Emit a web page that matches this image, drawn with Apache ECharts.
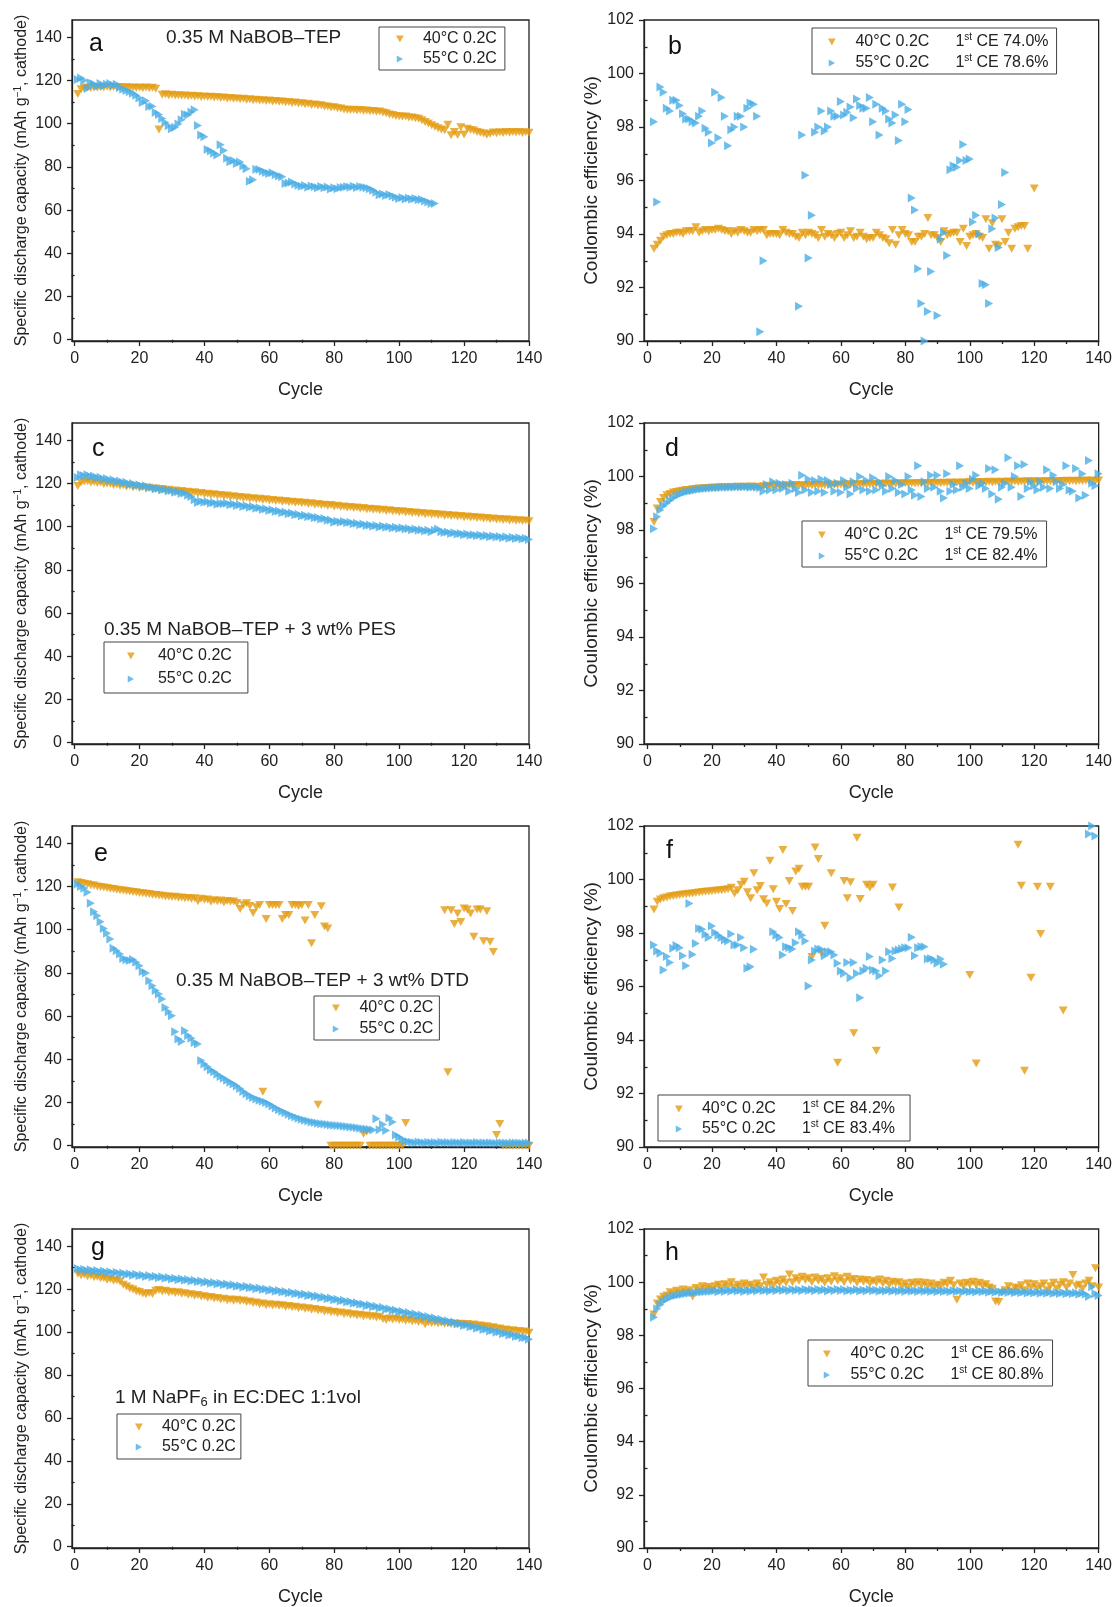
<!DOCTYPE html>
<html>
<head>
<meta charset="utf-8">
<script src="https://cdn.jsdelivr.net/npm/echarts@6/dist/echarts.min.js"></script>
<style>
html, body { margin: 0; padding: 0; background: #fff; }
#chart { width: 1115px; height: 1607px; }
</style>
</head>
<body>
<div id="chart"></div>
<script>
// values per cycle, index 0 = cycle 1, rows of 10 cycles, null = no point
var aCap40 = [
  113.8,116.0,116.5,116.8,116.5,117.0,116.6,117.0,116.7,117.1,
  116.8,117.0,116.7,117.0,116.6,116.9,116.6,116.8,116.5,116.8,
  116.4,116.7,116.4,116.6,116.2,97.3,113.4,113.6,113.2,113.4,
  113.0,113.2,112.9,113.1,112.7,112.9,112.6,112.8,112.4,112.6,
  112.3,112.5,112.1,112.3,111.9,112.1,111.7,111.9,111.5,111.7,
  111.3,111.5,111.1,111.3,110.9,111.1,110.7,110.9,110.5,110.7,
  110.3,110.5,110.1,110.3,109.9,110.0,109.6,109.8,109.3,109.5,
  109.0,109.2,108.7,108.9,108.4,108.5,108.0,107.9,107.5,107.6,
  107.2,107.0,106.6,106.5,106.3,106.5,106.1,106.3,106.0,106.1,
  105.7,105.9,105.5,105.6,105.2,104.8,104.3,104.0,103.6,103.5,
  103.2,103.3,102.9,102.9,102.5,102.3,101.6,100.8,100.1,99.3,
  98.6,97.9,97.3,97.0,99.5,94.6,96.2,94.8,98.3,95.0,
  97.6,97.1,96.8,96.2,95.8,95.4,94.9,95.3,95.9,95.6,
  96.0,95.7,96.1,95.8,96.2,95.9,96.1,95.7,96.0,95.8
];
var aCap55 = [
  120.5,121.2,120.0,116.3,119.0,118.4,117.2,118.6,117.5,118.2,
  118.6,117.8,118.3,116.8,115.9,115.4,114.8,114.1,113.2,111.9,
  109.8,110.6,107.9,108.1,105.2,104.3,102.4,100.6,99.1,97.6,
  98.4,99.9,101.8,104.4,104.0,105.4,106.4,99.2,94.8,94.0,
  88.0,87.3,86.3,85.5,90.2,87.6,84.0,82.4,83.0,81.6,
  82.3,80.4,79.1,73.3,74.1,78.9,78.8,78.0,77.4,76.9,
  77.3,76.4,75.8,75.4,72.3,72.6,73.0,72.1,71.5,71.0,
  71.4,70.6,71.2,70.8,70.4,70.9,70.3,70.7,69.8,70.4,
  69.9,70.5,70.6,70.9,70.6,71.0,70.5,70.9,70.6,70.4,
  69.9,69.2,68.3,67.1,67.5,66.8,67.2,66.5,65.9,65.4,
  65.8,65.1,65.6,65.0,65.4,64.8,64.9,64.2,63.8,63.1,
  63.0
];
var bCE40 = [
  null,93.45,93.6,93.75,93.9,93.95,94.0,94.0,94.05,94.05,
  94.0,94.1,94.1,94.1,94.25,94.05,94.1,94.15,94.1,94.15,
  94.15,94.2,94.15,94.1,94.1,94.0,94.1,94.05,94.15,94.1,
  94.05,94.05,94.15,94.1,94.15,94.15,93.95,94.0,94.0,94.0,
  93.95,94.15,94.05,94.0,94.0,93.9,93.85,94.05,93.95,94.05,
  94.0,93.95,93.85,94.15,93.9,94.0,93.95,93.85,94.0,94.05,
  93.85,93.95,94.1,93.85,93.9,94.05,93.9,93.8,93.85,93.85,
  94.05,93.95,93.85,93.8,93.65,94.15,93.6,93.95,94.15,94.0,
  93.95,93.7,93.7,93.9,93.9,94.0,94.6,93.95,93.95,93.85,
  93.7,94.1,93.95,94.0,94.05,94.05,93.7,94.2,93.55,93.9,
  93.95,94.0,93.9,93.85,94.55,93.45,94.4,93.6,93.55,94.55,
  93.7,94.05,93.45,94.2,94.25,94.3,94.3,93.45,null,95.7
];
var bCE55 = [
  null,98.2,95.2,99.5,99.3,98.7,98.6,99.0,99.0,98.8,
  98.5,98.3,98.3,98.2,98.15,98.4,98.6,97.95,97.8,97.4,
  99.3,97.6,99.1,98.4,97.3,97.9,98.0,98.4,98.4,98.0,
  98.7,98.9,98.85,98.4,90.35,93.0,null,null,null,null,
  null,null,null,null,null,null,91.3,97.7,96.2,93.1,
  94.7,97.8,98.0,98.6,97.85,98.0,98.6,98.4,98.4,98.95,
  98.45,98.55,98.75,98.35,99.05,98.8,98.7,98.7,99.1,98.2,
  98.85,97.7,98.7,98.6,98.3,98.15,98.45,97.5,98.85,98.2,
  98.65,95.35,94.9,92.7,91.4,90.0,91.1,92.6,null,90.95,
  93.8,94.05,93.2,96.4,96.55,96.5,96.75,97.35,96.75,96.8,
  94.45,94.7,94.0,92.15,92.1,91.4,94.2,94.6,93.5,95.1,
  96.3
];
var cCap40 = [
  118.8,120.4,120.9,121.0,120.5,120.7,120.2,120.4,119.8,120.0,
  119.9,119.3,119.5,118.9,119.2,118.6,118.9,118.3,118.6,118.0,
  118.3,117.7,118.0,117.4,117.7,117.1,117.4,116.8,117.1,116.5,
  116.8,116.2,116.5,115.9,116.2,115.6,115.9,115.3,115.6,115.0,
  115.3,114.7,115.0,114.4,114.7,114.1,114.4,113.8,114.1,113.5,
  113.8,113.2,113.5,112.9,113.2,112.7,112.9,112.4,112.7,112.1,
  112.4,111.9,112.1,111.6,111.9,111.3,111.6,111.1,111.3,110.8,
  111.1,110.5,110.8,110.2,110.5,110.0,110.2,109.7,110.0,109.4,
  109.7,109.1,109.4,108.9,109.1,108.6,108.9,108.3,108.6,108.1,
  108.3,107.8,108.1,107.6,107.8,107.3,107.6,107.1,107.3,106.8,
  107.1,106.6,106.8,106.3,106.6,106.1,106.3,105.8,106.1,105.6,
  105.9,105.4,105.6,105.1,105.4,104.9,105.2,104.7,104.9,104.4,
  104.7,104.2,104.5,104.0,104.2,103.8,104.0,103.5,103.8,103.3,
  103.6,103.1,103.4,102.9,103.2,102.7,103.0,102.6,102.9,102.5
];
var cCap55 = [
  122.8,124.0,123.6,124.1,123.2,123.5,122.6,122.9,122.0,122.3,
  121.4,121.7,120.9,121.1,120.3,120.6,119.7,120.0,119.2,119.4,
  118.6,118.9,118.1,118.3,117.5,117.8,117.0,117.3,116.5,116.8,
  116.0,116.2,115.4,115.6,114.6,114.0,112.5,111.2,111.8,111.3,
  111.6,110.8,111.2,110.4,110.7,110.6,110.9,110.2,110.5,109.8,
  110.1,109.4,109.7,109.0,109.3,108.5,108.8,108.0,108.3,107.5,
  107.8,107.0,107.3,106.5,106.8,106.0,106.3,105.5,105.8,105.0,
  105.3,104.6,104.8,104.1,104.3,103.6,103.8,103.0,103.1,102.0,
  102.5,102.1,102.4,101.8,102.0,101.4,101.6,100.9,101.2,100.5,
  100.8,100.2,100.5,99.9,100.3,99.7,100.0,99.4,99.7,99.2,
  99.5,98.9,99.2,98.6,98.9,98.3,98.6,98.0,98.3,97.7,
  98.4,98.9,97.7,97.3,97.5,96.9,97.2,96.6,96.9,96.3,
  96.6,96.0,96.3,95.8,96.1,95.6,95.9,95.3,95.7,95.2,
  95.5,94.9,95.3,94.7,95.1,94.5,94.9,94.3,94.7,94.1
];
var dCE40 = [
  null,98.3,98.8,99.05,99.2,99.3,99.35,99.4,99.42,99.45,
  99.47,99.5,99.5,99.52,99.53,99.55,99.55,99.56,99.57,99.58,
  99.58,99.59,99.6,99.59,99.6,99.61,99.6,99.62,99.61,99.62,
  99.6,99.63,99.61,99.62,99.6,99.64,99.62,99.65,99.62,99.66,
  99.63,99.66,99.64,99.67,99.64,99.68,99.65,99.67,99.65,99.68,
  99.66,99.69,99.66,99.68,99.67,99.7,99.67,99.69,99.68,99.7,
  99.68,99.71,99.69,99.71,99.69,99.72,99.7,99.72,99.7,99.73,
  99.71,99.73,99.71,99.74,99.72,99.74,99.72,99.75,99.73,99.75,
  99.73,99.75,99.74,99.76,99.74,99.76,99.74,99.77,99.75,99.77,
  99.75,99.77,99.76,99.78,99.76,99.78,99.76,99.78,99.77,99.79,
  99.77,99.79,99.77,99.79,99.78,99.8,99.78,99.8,99.78,99.8,
  99.79,99.81,99.79,99.81,99.79,99.81,99.8,99.82,99.8,99.82,
  99.8,99.82,99.81,99.83,99.81,99.83,99.81,99.83,99.82,99.84,
  99.82,99.84,99.82,99.84,99.83,99.85,99.83,99.85,99.83,99.85
];
var dCE55 = [
  null,98.05,98.5,98.75,98.9,99.0,99.1,99.2,99.28,99.33,
  99.38,99.42,99.45,99.47,99.5,99.52,99.53,99.55,99.56,99.57,
  99.58,99.58,99.59,99.6,99.6,99.61,99.6,99.62,99.61,99.62,
  99.62,99.6,99.61,99.6,99.58,99.45,99.7,99.5,99.8,99.5,
  99.75,99.55,99.7,99.45,99.75,99.55,99.4,100.05,99.5,99.9,
  99.4,99.85,99.45,99.9,99.4,99.85,99.7,99.45,99.75,99.4,
  99.85,99.6,99.35,99.8,99.55,100.0,99.5,99.85,99.45,99.95,
  99.5,99.8,99.65,99.45,100.0,99.55,99.85,99.4,99.7,99.35,
  100.0,99.5,99.3,100.4,99.25,99.8,99.55,100.05,99.6,100.05,
  99.45,99.2,100.1,99.45,99.7,99.5,100.4,99.6,99.75,99.55,
  99.9,100.05,99.65,99.75,99.55,100.3,99.35,100.25,99.15,99.6,
  99.75,100.7,99.6,100.0,100.4,99.25,100.45,99.55,99.8,99.65,
  99.5,99.8,99.6,100.25,99.55,100.05,99.8,99.55,99.7,100.4,
  99.5,99.45,100.3,99.2,100.1,99.3,100.6,99.75,99.65,100.1
];
var eCap40 = [
  122.0,121.6,121.3,121.0,120.6,120.4,120.0,119.8,119.5,119.3,
  119.0,118.8,118.5,118.3,118.1,117.9,117.7,117.4,117.3,117.0,
  116.9,116.6,116.5,116.2,116.1,115.8,115.7,115.4,115.4,115.1,
  115.2,114.8,114.9,114.5,114.7,114.3,114.5,113.2,114.3,113.9,
  114.0,112.9,113.6,113.2,113.5,112.6,113.3,112.9,113.0,112.4,
  109.6,111.5,112.2,111.0,107.7,110.4,111.4,25.0,104.9,111.4,
  111.4,111.4,111.4,104.9,106.8,106.8,111.4,111.4,111.0,111.4,
  104.2,111.4,93.7,106.8,19.0,110.8,101.5,100.6,0,0,
  0,0,0,0,0,0,0,0,5.5,6.5,
  0,0,0,0,0,0,0,0,0,0,
  0,10.5,null,null,null,null,null,null,null,null,
  null,null,null,109.0,34.0,109.0,102.6,107.5,103.6,109.8,
  109.3,107.5,96.7,109.3,109.3,94.7,108.5,94.4,89.7,5.0,
  10.0,0,0,0,0,0,0,0,0,0
];
var eCap55 = [
  121.2,120.0,119.2,117.3,112.2,108.3,106.5,103.7,100.6,98.3,
  95.7,91.4,90.3,88.7,86.7,86.1,85.7,86.2,84.9,83.3,
  80.6,80.0,76.4,74.1,71.8,70.2,67.9,64.0,62.0,60.2,
  52.8,49.4,48.2,53.2,51.0,49.7,47.8,47.1,39.4,37.8,
  36.5,35.0,34.2,33.1,32.0,31.2,30.3,29.4,28.6,27.6,
  26.5,25.1,24.0,23.0,22.3,21.6,21.0,20.6,20.0,19.3,
  18.4,17.5,16.7,16.0,15.3,14.6,13.9,13.3,12.7,12.2,
  11.8,11.4,11.0,10.7,10.4,10.2,10.0,9.8,9.6,9.5,
  9.3,9.2,9.0,8.9,8.7,8.5,8.3,8.1,7.9,7.7,
  7.5,7.3,12.5,7.4,9.8,7.0,12.8,11.0,5.0,4.0,
  3.0,2.2,1.8,1.6,1.4,1.7,1.5,1.3,1.6,1.4,
  1.5,1.3,1.6,1.4,1.5,1.3,1.5,1.4,1.2,1.5,
  1.3,1.4,1.2,1.5,1.3,1.4,1.2,1.4,1.3,1.1,
  1.4,1.2,1.3,1.1,1.4,1.2,1.3,1.1,1.3,1.2
];
var fCE40 = [
  null,98.88,99.17,99.25,99.3,99.33,99.36,99.38,99.4,99.42,
  99.44,99.45,99.47,99.48,99.5,99.51,99.53,99.54,99.55,99.56,
  99.58,99.59,99.6,99.62,99.64,99.69,99.48,99.6,99.8,99.92,
  99.52,99.3,100.23,99.6,99.76,99.26,99.1,100.7,99.64,99.17,
  98.9,101.1,99.08,99.94,98.82,100.3,100.4,99.73,99.73,99.73,
  97.1,101.2,100.77,97.24,98.27,null,100.23,null,93.15,null,
  99.94,99.3,99.9,94.25,101.56,99.27,null,99.8,99.7,99.8,
  93.6,null,null,null,null,99.7,91.65,98.95,null,null,
  null,null,null,null,null,null,null,null,null,null,
  null,null,null,null,null,null,null,null,null,96.43,
  null,93.12,null,null,null,null,null,null,null,null,
  null,null,null,null,101.3,99.77,92.85,null,96.33,null,
  99.73,97.96,null,null,99.73,null,null,null,95.1
];
var fCE55 = [
  null,97.55,97.33,97.24,96.62,97.12,96.9,97.43,97.53,97.45,
  97.15,96.78,99.1,97.2,97.61,98.17,98.14,97.95,97.83,98.26,
  98.02,97.92,97.83,97.74,97.7,97.96,97.55,97.55,97.83,97.45,
  96.68,96.74,97.39,null,null,null,null,null,98.05,97.92,
  97.83,97.18,97.49,97.45,97.4,97.64,98.05,97.92,97.7,96.02,
  96.99,97.33,97.4,97.39,97.15,97.3,97.3,97.18,96.87,96.58,
  96.49,96.9,96.33,96.9,96.49,95.58,96.58,96.68,97.12,96.62,
  96.58,96.4,96.99,96.58,97.3,97.05,97.33,97.36,97.4,97.45,
  97.45,97.84,97.15,97.45,97.49,97.49,97.03,97.05,96.99,96.87,
  97.03,96.83,null,null,null,null,null,null,null,null,
  null,null,null,null,null,null,null,null,null,null,
  null,null,null,null,null,null,null,null,null,null,
  null,null,null,null,null,null,null,null,null,null,
  null,null,null,null,null,null,101.7,102.0,101.63
];
var gCap40 = [
  127.2,126.4,126.8,126.0,126.3,125.5,125.8,125.0,125.2,124.4,
  124.7,123.9,124.1,123.5,122.0,121.2,120.3,119.8,119.0,118.6,
  118.0,117.6,118.2,117.7,119.2,119.6,118.9,119.2,118.5,118.8,
  118.2,118.5,117.8,118.1,117.4,117.6,116.9,117.2,116.5,116.7,
  116.0,116.3,115.6,115.9,115.2,115.5,114.8,115.2,114.6,115.0,
  114.5,114.7,114.0,114.2,113.5,113.8,113.0,113.3,112.5,112.9,
  112.4,112.7,112.2,112.5,111.8,112.1,111.5,111.8,111.1,111.4,
  110.8,111.1,110.4,110.7,110.0,110.3,109.6,109.9,109.2,109.5,
  108.8,109.1,108.4,108.7,108.0,108.3,107.7,108.0,107.4,107.7,
  107.1,107.4,106.8,107.1,106.1,105.6,106.3,105.8,106.2,105.6,
  105.9,105.3,105.6,105.0,105.3,104.7,105.0,103.6,104.6,104.2,
  104.5,104.0,104.3,103.9,104.2,103.7,104.0,103.6,103.9,103.4,
  103.7,103.2,103.5,102.9,103.1,102.5,102.7,102.0,102.2,101.5,
  101.6,101.0,101.2,100.5,100.8,100.2,100.5,99.9,100.2,99.7
];
var gCap55 = [
  129.6,128.9,129.3,128.6,129.0,128.3,128.7,128.0,128.4,127.7,
  128.1,127.4,127.8,127.1,127.5,126.8,127.2,126.5,126.9,126.2,
  126.6,125.9,126.3,125.6,126.0,125.3,125.7,125.0,125.4,124.7,
  125.1,124.4,124.8,124.1,124.5,123.8,124.1,123.4,123.8,123.1,
  123.4,122.7,123.1,122.4,122.7,122.0,122.4,121.7,122.0,121.3,
  121.6,120.9,121.3,120.6,120.9,120.2,120.5,119.8,120.1,119.4,
  119.7,119.0,119.3,118.6,118.9,118.2,118.5,117.8,118.1,117.4,
  117.7,116.9,117.2,116.5,116.8,116.0,116.3,115.5,115.8,115.0,
  115.3,114.5,114.8,114.0,114.2,113.4,113.7,112.9,113.1,112.3,
  112.6,111.8,112.0,111.2,111.5,110.6,110.9,110.0,110.3,109.4,
  109.7,108.8,109.1,108.2,108.5,107.6,107.9,107.0,107.2,106.4,
  106.6,105.7,106.0,105.1,105.3,104.4,104.7,103.8,104.0,103.1,
  103.4,102.5,102.7,101.8,102.1,101.2,101.4,100.5,100.8,99.9,
  100.1,99.2,99.5,98.6,98.8,97.9,98.2,97.3,97.5,96.6
];
var hCE40 = [
  null,98.78,99.2,99.35,99.45,99.5,99.62,99.55,99.68,99.6,
  99.72,99.62,99.7,99.46,99.78,99.7,99.85,99.75,99.82,99.72,
  99.85,99.9,99.78,99.92,99.85,100.0,99.8,99.9,99.82,99.95,
  99.85,99.9,99.8,99.95,99.85,100.18,99.9,100.0,99.88,100.05,
  99.95,100.1,99.98,100.29,100.0,100.15,100.05,100.2,100.08,100.15,
  100.0,100.18,100.05,100.12,99.98,100.15,100.02,100.22,100.05,100.15,
  100.0,100.2,100.05,100.12,99.98,100.1,100.02,100.08,99.95,100.05,
  99.98,100.1,99.95,100.05,99.9,100.02,99.95,100.0,99.85,99.95,
  99.82,99.98,99.9,100.0,99.88,99.98,99.85,99.95,99.82,99.9,
  99.85,99.98,99.92,100.05,99.88,99.34,99.95,99.85,99.98,99.9,
  100.02,99.88,99.98,99.85,99.92,99.8,99.75,99.27,99.25,99.6,
  99.7,99.85,99.65,99.8,99.75,99.88,99.7,99.95,99.8,99.92,
  99.75,99.85,99.95,99.7,99.85,99.98,99.75,99.9,100.0,99.8,
  99.95,100.27,99.85,99.9,99.75,99.95,100.05,99.85,100.52,99.8
];
var hCE55 = [
  null,98.68,99.0,99.15,99.28,99.36,99.42,99.47,99.5,99.53,
  99.55,99.57,99.58,99.6,99.61,99.62,99.63,99.64,99.65,99.66,
  99.68,99.64,99.69,99.65,99.7,99.66,99.71,99.67,99.7,99.65,
  99.7,99.66,99.71,99.67,99.72,99.68,99.71,99.67,99.72,99.68,
  99.73,99.69,99.72,99.68,99.73,99.69,99.72,99.68,99.73,99.69,
  99.72,99.68,99.73,99.69,99.72,99.67,99.72,99.68,99.73,99.69,
  99.72,99.67,99.71,99.68,99.72,99.67,99.71,99.67,99.72,99.68,
  99.71,99.66,99.7,99.67,99.71,99.66,99.7,99.66,99.7,99.65,
  99.7,99.66,99.69,99.65,99.7,99.66,99.69,99.65,99.69,99.64,
  99.69,99.65,99.68,99.64,99.69,99.65,99.68,99.63,99.68,99.64,
  99.67,99.63,99.68,99.64,99.67,99.62,99.66,99.62,99.66,99.61,
  99.65,99.61,99.65,99.6,99.64,99.6,99.64,99.59,99.63,99.59,
  99.63,99.58,99.62,99.58,99.62,99.57,99.61,99.57,99.61,99.56,
  99.6,99.56,99.6,99.55,99.59,99.55,99.46,99.83,99.56,99.5
];

var tempLabels = ['40°C 0.2C', '55°C 0.2C'];
var firstCE = { b: ['74.0%', '78.6%'], d: ['79.5%', '82.4%'], f: ['84.2%', '83.4%'], h: ['86.6%', '80.8%'] };
var cycleTicks = [0, 20, 40, 60, 80, 100, 120, 140];
var cycleMinor = [10, 30, 50, 70, 90, 110, 130];
var capTicks = [0, 20, 40, 60, 80, 100, 120, 140];
var capMinor = [10, 30, 50, 70, 90, 110, 130];
var ceTicks = [90, 92, 94, 96, 98, 100, 102];
var ceMinor = [91, 93, 95, 97, 99, 101];

var ORANGE = '#E49C12';
var BLUE = '#4AAEE6';
var INK = '#222';
var FONT = 'Liberation Sans, Arial, sans-serif';
var DOWN = 'path://M0,0L10,0L5,9Z';
var RIGHT = 'path://M0,0L9,5L0,10Z';

// layout of each panel (plot box, legend box, letter, note)
var panels = [
  { key: 'a', kind: 'cap', box: [72, 20], s: [aCap40, aCap55],
    leg: { left: 379, top: 27, w: 36, pad: [2, 8, 1, 17], gap: 0 },
    letter: [89, 44], note: { text: '0.35 M NaBOB–TEP', x: 166, y: 38 } },
  { key: 'b', kind: 'ce', box: [644, 20], s: [bCE40, bCE55],
    leg: { left: 812, top: 28, w: 37, pad: [4, 8, 1, 16], gap: 1 },
    letter: [668, 47] },
  { key: 'c', kind: 'cap', box: [72, 423], s: [cCap40, cCap55],
    leg: { left: 104, top: 642, w: 44, pad: [4, 16, 4, 23], gap: 3 },
    letter: [92, 449], note: { text: '0.35 M NaBOB–TEP + 3 wt% PES', x: 104, y: 630 } },
  { key: 'd', kind: 'ce', box: [644, 423], s: [dCE40, dCE55],
    leg: { left: 802, top: 521, w: 35, pad: [4, 9, 1, 16], gap: 1 },
    letter: [665, 449] },
  { key: 'e', kind: 'cap', box: [72, 826], s: [eCap40, eCap55],
    leg: { left: 314, top: 996, w: 37, pad: [2, 6, 1, 18], gap: 1 },
    letter: [94, 854], note: { text: '0.35 M NaBOB–TEP + 3 wt% DTD', x: 176, y: 981 } },
  { key: 'f', kind: 'ce', box: [644, 826], s: [fCE40, fCE55],
    leg: { left: 658, top: 1095, w: 36, pad: [4, 15, 2, 17], gap: 0 },
    letter: [666, 851] },
  { key: 'g', kind: 'cap', box: [72, 1229], s: [gCap40, gCap55],
    leg: { left: 117, top: 1414, w: 36, pad: [3, 5, 2, 18], gap: 0 },
    letter: [91, 1248], note: { text: '{t|1 M NaPF}{b|6}{t| in EC:DEC 1:1vol}', x: 115, y: 1398 } },
  { key: 'h', kind: 'ce', box: [644, 1229], s: [hCE40, hCE55],
    leg: { left: 808, top: 1340, w: 37, pad: [4, 9, 1, 15], gap: 1 },
    letter: [665, 1253] }
];

function toPairs(arr) {
  var out = [];
  arr.forEach(function (v, i) {
    if (v !== null) out.push([i + 1, v]);
  });
  return out;
}

var lineStyle = { color: INK, width: 1.3 };
var grids = [], xAxes = [], yAxes = [], series = [], legends = [], graphics = [];

panels.forEach(function (p, i) {
  var cap = p.kind === 'cap';
  var xmin = cap ? -0.8 : -1.1;
  grids.push({
    left: p.box[0], top: p.box[1], width: cap ? 457 : 462, height: 321,
    show: true, borderColor: INK, borderWidth: 1.3, backgroundColor: 'transparent'
  });
  xAxes.push({
    gridIndex: i, type: 'value', position: 'bottom', min: xmin, max: 140,
    axisLine: { show: true, onZero: false, lineStyle: lineStyle },
    axisTick: { show: true, length: 5, customValues: cycleTicks, lineStyle: lineStyle },
    axisLabel: { customValues: cycleTicks, margin: 10, fontSize: 16, color: INK, fontFamily: FONT },
    splitLine: { show: false },
    name: 'Cycle', nameLocation: 'middle', nameGap: 40,
    nameTextStyle: { fontSize: 18, color: INK, fontFamily: FONT }
  });
  xAxes.push({
    gridIndex: i, type: 'value', position: 'bottom', min: xmin, max: 140,
    axisLine: { show: false },
    axisTick: { show: true, length: 3, customValues: cycleMinor, lineStyle: lineStyle },
    axisLabel: { show: false }, splitLine: { show: false }
  });
  var yName = cap
    ? '{t|Specific discharge capacity (mAh g}{s|−1}{t|, cathode)}'
    : 'Coulombic efficiency (%)';
  yAxes.push({
    gridIndex: i, type: 'value', position: 'left',
    min: cap ? -0.6 : 90, max: cap ? 148 : 102,
    axisLine: { show: true, onZero: false, lineStyle: lineStyle },
    axisTick: { show: true, length: 5, customValues: cap ? capTicks : ceTicks, lineStyle: lineStyle },
    axisLabel: { customValues: cap ? capTicks : ceTicks, margin: 10, fontSize: 16, color: INK, fontFamily: FONT },
    splitLine: { show: false },
    name: yName, nameLocation: 'middle', nameGap: cap ? 41 : 43,
    nameTextStyle: {
      fontSize: cap ? 16 : 19, color: INK, fontFamily: FONT,
      rich: {
        t: { fontSize: 16, lineHeight: 18, color: INK, fontFamily: FONT },
        s: { fontSize: 10, lineHeight: 10, verticalAlign: 'top', color: INK, fontFamily: FONT }
      }
    }
  });
  yAxes.push({
    gridIndex: i, type: 'value', position: 'left',
    min: cap ? -0.6 : 90, max: cap ? 148 : 102,
    axisLine: { show: false },
    axisTick: { show: true, length: 3, customValues: cap ? capMinor : ceMinor, lineStyle: lineStyle },
    axisLabel: { show: false }, splitLine: { show: false }
  });

  var n40 = p.key + '40', n55 = p.key + '55';
  series.push({
    type: 'scatter', name: n40, xAxisIndex: 2 * i, yAxisIndex: 2 * i,
    data: toPairs(p.s[0]), symbol: DOWN, symbolSize: [9, 8],
    itemStyle: { color: ORANGE }
  });
  series.push({
    type: 'scatter', name: n55, xAxisIndex: 2 * i, yAxisIndex: 2 * i,
    data: toPairs(p.s[1]), symbol: RIGHT, symbolSize: [8, 9],
    itemStyle: { color: BLUE }
  });

  var ce = firstCE[p.key];
  legends.push({
    orient: 'vertical', left: p.leg.left, top: p.leg.top,
    padding: p.leg.pad, itemGap: p.leg.gap,
    itemWidth: p.leg.w, itemHeight: 7, symbolKeepAspect: true,
    borderColor: '#444', borderWidth: 1, backgroundColor: '#fff',
    selectedMode: false,
    data: [{ name: n40, icon: DOWN }, { name: n55, icon: RIGHT }],
    formatter: function (name) {
      var k = name.slice(-2) === '40' ? 0 : 1;
      if (!ce) return tempLabels[k];
      return '{c|' + tempLabels[k] + '}{n|1}{s|st}{n| CE ' + ce[k] + '}';
    },
    textStyle: {
      fontSize: 16, lineHeight: 20, color: INK, fontFamily: FONT,
      rich: {
        c: { width: 100, fontSize: 16, lineHeight: 20, color: INK, fontFamily: FONT },
        n: { fontSize: 16, lineHeight: 20, color: INK, fontFamily: FONT },
        s: { fontSize: 10, lineHeight: 12, verticalAlign: 'top', color: INK, fontFamily: FONT }
      }
    }
  });

  graphics.push({
    type: 'text', x: p.letter[0], y: p.letter[1], z: 10,
    style: { text: p.key, fontSize: 25, fontFamily: FONT, fill: '#111', align: 'left', verticalAlign: 'middle' }
  });
  if (p.note) {
    graphics.push({
      type: 'text', x: p.note.x, y: p.note.y, z: 10,
      style: {
        text: p.note.text, fontSize: 19, fontFamily: FONT, fill: INK,
        align: 'left', verticalAlign: 'middle',
        rich: {
          t: { fontSize: 19, lineHeight: 22, fontFamily: FONT, fill: INK },
          b: { fontSize: 13, lineHeight: 12, verticalAlign: 'bottom', fontFamily: FONT, fill: INK }
        }
      }
    });
  }
});

var chart = echarts.init(document.getElementById('chart'));
chart.setOption({
  animation: false,
  backgroundColor: '#fff',
  textStyle: { fontFamily: FONT },
  grid: grids,
  xAxis: xAxes,
  yAxis: yAxes,
  legend: legends,
  series: series,
  graphic: graphics
});
</script>
</body>
</html>
